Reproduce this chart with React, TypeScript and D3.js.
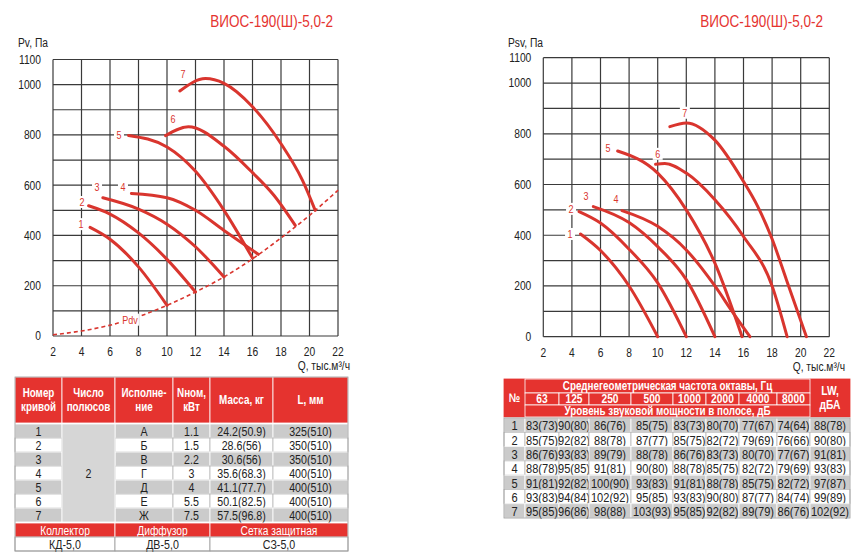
import React, { useEffect, useRef } from "react";
import * as d3 from "d3";

type Pt = [number, number];

const title = "ВИОС-190(Ш)-5,0-2";
const xTicks = [2, 4, 6, 8, 10, 12, 14, 16, 18, 20, 22];
const yTicks = [0, 200, 400, 600, 800, 1000, 1100];
const yGrid = [0, 100, 200, 300, 400, 500, 600, 700, 800, 900, 1000, 1100];
const curveNums = ["1", "2", "3", "4", "5", "6", "7"];

// full pressure curves Pv
const pv1: Pt[] = [[4.6, 432], [6, 385], [8, 275], [10, 122]];
const pv2: Pt[] = [[4.5, 518], [6, 485], [8, 410], [10, 305], [12, 175]];
const pv3: Pt[] = [[5.5, 550], [8, 505], [10, 445], [12, 355], [14, 235]];
const pv4: Pt[] = [[7.5, 567], [10, 550], [12, 500], [14, 420], [16.4, 325]];
const pv5: Pt[] = [[7.3, 798], [10, 752], [12, 655], [14, 500], [16, 310]];
const pv6: Pt[] = [[9.9, 797], [11.5, 832], [14, 755], [16, 650], [17.5, 560], [19, 440]];
const pv7: Pt[] = [[10.9, 975], [12.7, 1024], [14, 1005], [16, 912], [18, 765], [19.5, 620], [20.4, 500]];
const pvLabels: Pt[] = [[3.96, 445], [4.03, 533], [5.09, 593], [6.91, 593], [6.63, 800], [10.42, 863], [11.12, 1042]];

// dynamic pressure line
const pdv: Pt[] = [[2, 5], [4, 20], [6, 43], [8, 77], [10, 122], [12, 175], [14, 235], [16, 307], [18, 390], [20, 480], [22, 580]];
const pdvLabel: Pt = [7.4, 65];

// static pressure curves Psv
const psv1: Pt[] = [[4.6, 405], [6, 340], [8, 200], [10, 0]];
const psv2: Pt[] = [[4.5, 493], [6, 448], [8, 345], [10, 212], [12, 0]];
const psv3: Pt[] = [[5.5, 513], [8, 450], [10, 355], [12, 225], [14, 0]];
const psv4: Pt[] = [[7.5, 497], [10, 435], [12, 342], [14, 200], [15.2, 100], [16.45, 0]];
const psv5: Pt[] = [[7.2, 732], [10, 645], [12, 500], [14, 290], [15.9, 0]];
const psv6: Pt[] = [[9.85, 680], [10.5, 683], [12, 645], [14, 540], [16, 395], [18, 200], [19.05, 0]];
const psv7: Pt[] = [[10.85, 828], [12, 843], [14, 775], [16, 612], [17, 513], [18, 385], [19, 225], [20.4, 0]];
const psvLabels: Pt[] = [[3.87, 405], [3.94, 504], [4.99, 555], [7.08, 543], [6.52, 745], [10.0, 721], [11.9, 883]];

// left table
const tableHeaders = [["Номер", "кривой"], ["Число", "полюсов"], ["Исполне-", "ние"], ["Nном,", "кВт"], ["Масса, кг"], ["L, мм"]];
const poles = "2";
const versions = ["А", "Б", "В", "Г", "Д", "Е", "Ж"];
const powers = ["1.1", "1.5", "2.2", "3", "4", "5.5", "7.5"];
const masses = ["24.2(50.9)", "28.6(56)", "30.6(56)", "35.6(68.3)", "41.1(77.7)", "50.1(82.5)", "57.5(96.8)"];
const lengths = ["325(510)", "350(510)", "350(510)", "400(510)", "400(510)", "400(510)", "400(510)"];
const accessoryNames = ["Коллектор", "Диффузор", "Сетка защитная"];
const accessoryCodes = ["КД-5,0", "ДВ-5,0", "СЗ-5,0"];

// right table
const freqs = ["63", "125", "250", "500", "1000", "2000", "4000", "8000"];
const soundLevels = [
  ["83(73)", "90(80)", "86(76)", "85(75)", "83(73)", "80(70)", "77(67)", "74(64)"],
  ["85(75)", "92(82)", "88(78)", "87(77)", "85(75)", "82(72)", "79(69)", "76(66)"],
  ["86(76)", "93(83)", "89(79)", "88(78)", "86(76)", "83(73)", "80(70)", "77(67)"],
  ["88(78)", "95(85)", "91(81)", "90(80)", "88(78)", "85(75)", "82(72)", "79(69)"],
  ["91(81)", "92(82)", "100(90)", "93(83)", "91(81)", "88(78)", "85(75)", "82(72)"],
  ["93(83)", "94(84)", "102(92)", "95(85)", "93(83)", "90(80)", "87(77)", "84(74)"],
  ["95(85)", "96(86)", "98(88)", "103(93)", "95(85)", "92(82)", "89(79)", "86(76)"],
];
const lwLevels = ["88(78)", "90(80)", "91(81)", "93(83)", "97(87)", "99(89)", "102(92)"];

const RED = "#e5332f";
const CURVE = "#d9352e";
const GRAY = "#cbcbcb";
const FONT = "'Liberation Sans', Arial, sans-serif";
const SX = 0.82; // squeeze text horizontally, like a narrow face

type G = d3.Selection<SVGGElement, unknown, null, undefined>;

const at = (x: number, y: number) => `translate(${x},${y}) scale(${SX},1)`;

interface ChartSpec {
  xRange: [number, number];
  yRange: [number, number];
  yLabel: string;
  yLabelX: number;
  titleX: number;
  qLabelX: number;
  curves: Pt[][];
  labels: Pt[];
  pdv?: Pt[];
  pdvLabel?: Pt;
}

function drawChart(g: G, s: ChartSpec) {
  const x = d3.scaleLinear().domain([2, 22]).range(s.xRange);
  const y = d3.scaleLinear().domain([0, 1100]).range(s.yRange);

  g.append("text")
    .attr("transform", at(s.titleX, 27))
    .attr("text-anchor", "end")
    .attr("fill", RED)
    .style("font-size", "16.5px")
    .text(title);

  g.append("text")
    .attr("transform", at(s.yLabelX, 47))
    .attr("fill", "#222")
    .style("font-size", "12.5px")
    .text(s.yLabel);

  const grid = g.append("g").attr("stroke", "#3a3a3a").attr("stroke-width", 1.2);
  grid.selectAll(".vx").data(xTicks).join("line")
    .attr("x1", (d) => x(d)).attr("x2", (d) => x(d))
    .attr("y1", y(0)).attr("y2", y(1100));
  grid.selectAll(".hy").data(yGrid).join("line")
    .attr("x1", x(2)).attr("x2", x(22))
    .attr("y1", (d) => y(d)).attr("y2", (d) => y(d));

  g.append("g").selectAll("text").data(yTicks).join("text")
    .attr("transform", (d) => at(x(2) - 12, y(d)))
    .attr("dy", "0.35em")
    .attr("text-anchor", "end")
    .attr("fill", "#222")
    .style("font-size", "12.5px")
    .text((d) => d);

  g.append("g").selectAll("text").data(xTicks).join("text")
    .attr("transform", (d) => at(x(d), y(0) + 16))
    .attr("dy", "0.35em")
    .attr("text-anchor", "middle")
    .attr("fill", "#222")
    .style("font-size", "12.5px")
    .text((d) => d);

  g.append("text")
    .attr("transform", at(s.qLabelX, y(0) + 34))
    .attr("text-anchor", "end")
    .attr("fill", "#222")
    .style("font-size", "12.5px")
    .text("Q, тыс.м³/ч");

  // white boxes under the curve numbers
  g.append("g").selectAll("rect").data(s.labels).join("rect")
    .attr("x", (d) => x(d[0]) - 5)
    .attr("y", (d) => y(d[1]) - 6)
    .attr("width", 10)
    .attr("height", 12)
    .attr("fill", "#fff");

  g.append("g").selectAll("text").data(s.labels).join("text")
    .attr("transform", (d) => at(x(d[0]), y(d[1])))
    .attr("dy", "0.35em")
    .attr("text-anchor", "middle")
    .attr("fill", CURVE)
    .style("font-size", "11px")
    .text((_, i) => curveNums[i]);

  const line = d3.line<Pt>()
    .x((d) => x(d[0]))
    .y((d) => y(d[1]))
    .curve(d3.curveMonotoneX);

  if (s.pdv) {
    g.append("path")
      .attr("d", line(s.pdv))
      .attr("fill", "none")
      .attr("stroke", CURVE)
      .attr("stroke-width", 1.6)
      .attr("stroke-dasharray", "4,3");
  }
  if (s.pdvLabel) {
    const [lx, ly] = s.pdvLabel;
    g.append("rect")
      .attr("x", x(lx) - 9).attr("y", y(ly) - 6)
      .attr("width", 18).attr("height", 12)
      .attr("fill", "#fff");
    g.append("text")
      .attr("transform", at(x(lx), y(ly)))
      .attr("dy", "0.35em")
      .attr("text-anchor", "middle")
      .attr("fill", CURVE)
      .style("font-size", "11px")
      .text("Pdv");
  }

  g.append("g").selectAll("path").data(s.curves).join("path")
    .attr("d", (d) => line(d))
    .attr("fill", "none")
    .attr("stroke", CURVE)
    .attr("stroke-width", 3)
    .attr("stroke-linecap", "round");
}

function cell(g: G, x0: number, x1: number, y0: number, y1: number, fill: string, stroke: string) {
  g.append("rect")
    .attr("x", x0).attr("y", y0)
    .attr("width", x1 - x0).attr("height", y1 - y0)
    .attr("fill", fill)
    .attr("stroke", stroke)
    .attr("stroke-width", 0.8);
}

function label(g: G, x: number, y: number, txt: string, color: string, size: number, bold = false) {
  g.append("text")
    .attr("transform", at(x, y))
    .attr("dy", "0.35em")
    .attr("text-anchor", "middle")
    .attr("fill", color)
    .style("font-size", `${size}px`)
    .style("font-weight", bold ? "bold" : "normal")
    .text(txt);
}

function drawLeftTable(g: G) {
  const cols = [15, 62, 115, 173, 210, 273, 348];
  const headTop = 377;
  const headBottom = 423;
  const rows = d3.scaleBand().domain(curveNums).range([424, 522]);
  const mid = (i: number) => (cols[i] + cols[i + 1]) / 2;

  tableHeaders.forEach((h, i) => {
    cell(g, cols[i], cols[i + 1], headTop, headBottom, RED, "#fff");
    const cy = (headTop + headBottom) / 2;
    if (h.length === 2) {
      label(g, mid(i), cy - 7, h[0], "#fff", 12, true);
      label(g, mid(i), cy + 7, h[1], "#fff", 12, true);
    } else {
      label(g, mid(i), cy, h[0], "#fff", 12, true);
    }
  });

  const colVals = [curveNums, null, versions, powers, masses, lengths];
  curveNums.forEach((n, r) => {
    const y0 = rows(n)!;
    const y1 = y0 + rows.bandwidth();
    const fill = r % 2 === 0 ? GRAY : "#fff";
    colVals.forEach((vals, c) => {
      if (!vals) return;
      cell(g, cols[c], cols[c + 1], y0, y1, fill, r % 2 === 0 ? "#fff" : "#b8b8b8");
      label(g, mid(c), (y0 + y1) / 2 + 0.5, vals[r], "#222", 13);
    });
  });
  cell(g, cols[1], cols[2], rows("1")!, rows("7")! + rows.bandwidth(), "#d6d6d6", "#fff");
  label(g, mid(1), rows("4")! + rows.bandwidth() / 2, poles, "#222", 13);

  const spans = [[0, 2], [2, 4], [4, 6]];
  spans.forEach(([a, b], i) => {
    cell(g, cols[a], cols[b], 523, 537, RED, "#fff");
    label(g, (cols[a] + cols[b]) / 2, 530.5, accessoryNames[i], "#fff", 12.5);
    cell(g, cols[a], cols[b], 537, 551, "#fff", "#9a9a9a");
    label(g, (cols[a] + cols[b]) / 2, 544.5, accessoryCodes[i], "#222", 13);
  });
  g.append("rect")
    .attr("x", cols[0]).attr("y", headTop)
    .attr("width", cols[6] - cols[0]).attr("height", 551 - headTop)
    .attr("fill", "none").attr("stroke", "#9a9a9a").attr("stroke-width", 0.8);
}

function drawRightTable(g: G) {
  const cols = [504, 525, 559, 589, 631, 673, 706, 739, 777, 810, 850];
  const hy = [379, 393, 405, 417];
  const rows = d3.scaleBand().domain(curveNums).range([418, 518]);
  const mid = (i: number) => (cols[i] + cols[i + 1]) / 2;

  cell(g, cols[0], cols[10], hy[0], hy[3], RED, RED);
  cell(g, cols[1], cols[9], hy[0], hy[1], RED, "#fff");
  freqs.forEach((f, i) => {
    cell(g, cols[i + 1], cols[i + 2], hy[1], hy[2], RED, "#fff");
    label(g, mid(i + 1), (hy[1] + hy[2]) / 2, f, "#fff", 12.5, true);
  });
  cell(g, cols[1], cols[9], hy[2], hy[3], RED, "#fff");
  label(g, (cols[1] + cols[9]) / 2, (hy[0] + hy[1]) / 2, "Среднегеометрическая частота октавы, Гц", "#fff", 12, true);
  label(g, (cols[1] + cols[9]) / 2, (hy[2] + hy[3]) / 2, "Уровень звуковой мощности в полосе, дБ", "#fff", 12, true);
  label(g, mid(0), (hy[0] + hy[3]) / 2, "№", "#fff", 12.5, true);
  label(g, mid(9), (hy[0] + hy[3]) / 2 - 7, "LW,", "#fff", 12.5, true);
  label(g, mid(9), (hy[0] + hy[3]) / 2 + 7, "дБА", "#fff", 12.5, true);

  curveNums.forEach((n, r) => {
    const y0 = rows(n)!;
    const y1 = y0 + rows.bandwidth();
    const fill = r % 2 === 0 ? GRAY : "#fff";
    const vals = [n, ...soundLevels[r], lwLevels[r]];
    vals.forEach((v, c) => {
      cell(g, cols[c], cols[c + 1], y0, y1, fill, r % 2 === 0 ? "#fff" : "#b8b8b8");
      label(g, mid(c), (y0 + y1) / 2 + 0.5, v, "#222", 13.5);
    });
  });
  g.append("rect")
    .attr("x", cols[0]).attr("y", rows("1")!)
    .attr("width", cols[10] - cols[0]).attr("height", 518 - rows("1")!)
    .attr("fill", "none").attr("stroke", "#9a9a9a").attr("stroke-width", 0.8);
}

const App: React.FC = () => {
  const svgRef = useRef<SVGSVGElement>(null);

  useEffect(() => {
    if (!svgRef.current) return;
    const svg = d3.select(svgRef.current);
    svg.selectAll("*").remove();
    const root = svg.append("g").style("font-family", FONT);

    drawChart(root.append("g"), {
      xRange: [53, 338],
      yRange: [336, 59.5],
      yLabel: "Pv, Па",
      yLabelX: 18,
      titleX: 333,
      qLabelX: 350,
      curves: [pv1, pv2, pv3, pv4, pv5, pv6, pv7],
      labels: pvLabels,
      pdv,
      pdvLabel,
    });

    drawChart(root.append("g"), {
      xRange: [543.3, 829.3],
      yRange: [336.7, 57.7],
      yLabel: "Psv, Па",
      yLabelX: 508,
      titleX: 823,
      qLabelX: 845,
      curves: [psv1, psv2, psv3, psv4, psv5, psv6, psv7],
      labels: psvLabels,
    });

    drawLeftTable(root.append("g"));
    drawRightTable(root.append("g"));
  }, []);

  return (
    <svg
      ref={svgRef}
      width={861}
      height={556}
      style={{ position: "absolute", left: 0, top: 0, background: "#fff" }}
    />
  );
};

export default App;
